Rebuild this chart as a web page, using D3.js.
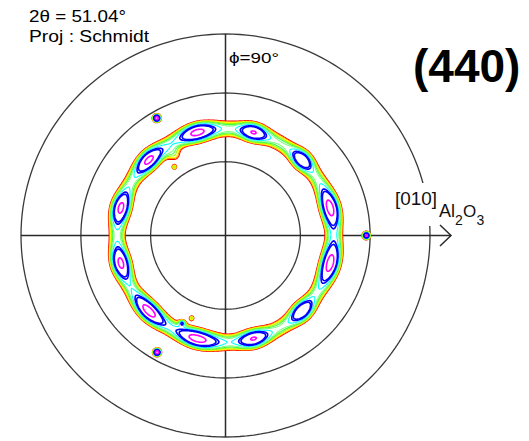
<!DOCTYPE html>
<html><head><meta charset="utf-8">
<script src="https://cdn.jsdelivr.net/npm/d3@7"></script>
<style>html,body{margin:0;padding:0;background:#fff;}svg{display:block;}</style>
</head><body>
<script>
// ---- data ----
const twoTheta = "51.04";
const projection = "Schmidt";
const reflection = "(440)";
const gridChi = [30, 60, 90];              // tilt circles (deg)
const ringChi = 44;                        // radial centre of the texture ring (deg)
const ringSigma = 3.3;                     // radial spread (deg)
const ringBase = 1.6;                      // ring intensity between peaks
const peakPhi   = [15, 45, 75, 105, 135, 165, -165, -135, -105, -75, -45, -15];
const peakAmp   = [1.45, 1.15, 1.25, 1.4, 1.35, 1.35, 1.35, 1.45, 1.45, 1.25, 1.2, 1.45];
const peakSigma = [7, 4.5, 5, 6.5, 6, 6, 6, 7, 7.5, 5.5, 5, 7.5];
const spotPhi = [120, -120, 0];
const spotChi = [56.8, 56.5, 58.3];
const spotAmp = [3.2, 3.2, 2.9];
const blobPhi = [126.5, -112, -116, 122];
const blobChi = [34.6, 36.3, 39.8, 38];
const blobAmp = [1.2, 1.2, 1.15, 0.85];
const blobSize = [0.012, 0.013, 0.012, 0.03];
const levels = [1, 1.1, 1.2, 1.32, 1.45, 1.58, 1.8, 2.05, 2.2, 2.8];
const levelColors = ["#ff0000","#ff9000","#ffff00","#a0ff00","#40ff40","#80ff80","#00ffff","#0000ff","#0000ff","#ff00ff"];

// ---- layout ----
const W = 529, H = 441;
const cx = 225.5, cy = 235.5, rx = 204.5, ry = 201.5;
const x = d3.scaleLinear().domain([-1, 1]).range([cx - rx, cx + rx]);
const y = d3.scaleLinear().domain([-1, 1]).range([cy + ry, cy - ry]);
const rad = Math.PI / 180;
const rho = chi => Math.SQRT2 * Math.sin(chi * rad / 2);   // Schmidt (equal-area)
const proj = (phi, chi) => [rho(chi) * Math.cos(phi * rad), rho(chi) * Math.sin(phi * rad)];

const svg = d3.select("body").append("svg").attr("width", W).attr("height", H);
svg.append("rect").attr("width", W).attr("height", H).attr("fill", "#fff");

// tilt circles
const circLine = d3.line().x(d => x(d[0])).y(d => y(d[1]));
const phis = d3.range(0, 361, 2);
svg.append("g").selectAll("path").data(gridChi).join("path")
  .attr("d", c => circLine(phis.map(p => proj(p, c))) + "Z")
  .attr("fill", "none").attr("stroke", "#3a3a3a").attr("stroke-width", 1.3);

// label mask
svg.append("rect").attr("x", 392).attr("y", 183).attr("width", 92).attr("height", 43).attr("fill", "#fff");

// axes
const axisExt = (451 - cx) / rx;
const ax = svg.append("g").attr("stroke", "#2a2a2a").attr("stroke-width", 1.5).attr("fill", "none");
ax.append("line").attr("x1", x(0)).attr("x2", x(0)).attr("y1", y(1)).attr("y2", y(-1));
ax.append("line").attr("x1", x(-1)).attr("x2", x(axisExt)).attr("y1", y(0)).attr("y2", y(0));
ax.append("path").attr("d", `M${x(axisExt) - 11},${y(0) - 10.5}L${x(axisExt)},${y(0)}L${x(axisExt) - 11},${y(0) + 10.5}`);

// intensity field
const x0 = Math.floor(cx - rx) - 2, y0 = Math.floor(cy - ry) - 2;
const gw = Math.ceil(2 * rx) + 5, gh = Math.ceil(2 * ry) + 5;
const values = new Float64Array(gw * gh);
const wrap = d => ((d + 180) % 360 + 360) % 360 - 180;
const spotXY = spotPhi.map((p, i) => proj(p, spotChi[i]));
const blobXY = blobPhi.map((p, i) => proj(p, blobChi[i]));
for (let j = 0; j < gh; j++) {
  for (let i = 0; i < gw; i++) {
    const u = x.invert(x0 + i + 0.5), v = y.invert(y0 + j + 0.5);
    const r = Math.hypot(u, v);
    if (r > 1) continue;
    const chi = 2 * Math.asin(r / Math.SQRT2) / rad;
    const phi = Math.atan2(v, u) / rad;
    let f = ringBase;
    for (let k = 0; k < peakPhi.length; k++) {
      const d = wrap(phi - peakPhi[k]);
      f += peakAmp[k] * Math.exp(-d * d / (2 * peakSigma[k] * peakSigma[k]));
    }
    const dc = chi - ringChi;
    let val = f * Math.exp(-dc * dc / (2 * ringSigma * ringSigma));
    for (let k = 0; k < spotXY.length; k++) {
      const d2 = (u - spotXY[k][0]) ** 2 + (v - spotXY[k][1]) ** 2;
      val += spotAmp[k] * Math.exp(-d2 / (2 * 0.015 * 0.015));
    }
    for (let k = 0; k < blobXY.length; k++) {
      const d2 = (u - blobXY[k][0]) ** 2 + (v - blobXY[k][1]) ** 2;
      val += blobAmp[k] * Math.exp(-d2 / (2 * blobSize[k] * blobSize[k]));
    }
    values[j * gw + i] = val;
  }
}
const contours = d3.contours().size([gw, gh]).thresholds(levels)(values);
const path = d3.geoPath(d3.geoIdentity().translate([x0, y0]));
svg.append("path").attr("d", path(contours[0])).attr("fill", "#fff").attr("stroke", "none");
svg.append("g").selectAll("path").data(contours).join("path")
  .attr("d", path).attr("fill", "none")
  .attr("stroke", (d, i) => levelColors[i]).attr("stroke-width", (d, i) => i >= 7 ? 1.6 : 1.1);

// texts
const tf = "'Liberation Sans', Arial, sans-serif";
svg.append("text").attr("x", 29).attr("y", 21.5).attr("font-family", tf).attr("font-size", 16)
  .attr("textLength", 97).attr("lengthAdjust", "spacingAndGlyphs").text(`2θ = ${twoTheta}°`);
svg.append("text").attr("x", 29).attr("y", 42).attr("font-family", tf).attr("font-size", 16)
  .attr("textLength", 120).attr("lengthAdjust", "spacingAndGlyphs").text(`Proj : ${projection}`);
svg.append("text").attr("x", 229).attr("y", 62.5).attr("font-family", tf).attr("font-size", 15)
  .attr("textLength", 50).attr("lengthAdjust", "spacingAndGlyphs").text("ϕ=90°");
svg.append("text").attr("x", 413).attr("y", 82).attr("font-family", tf).attr("font-size", 46)
  .attr("font-weight", "bold").text(reflection);
const lab = svg.append("g").attr("font-family", tf).attr("fill", "#111");
lab.append("text").attr("x", 395).attr("y", 205).attr("font-size", 18)
  .attr("textLength", 42).attr("lengthAdjust", "spacingAndGlyphs").text("[010]");
lab.append("text").attr("x", 439).attr("y", 217).attr("font-size", 18).text("Al");
lab.append("text").attr("x", 455).attr("y", 225).attr("font-size", 14).text("2");
lab.append("text").attr("x", 463).attr("y", 217).attr("font-size", 17).text("O");
lab.append("text").attr("x", 476.5).attr("y", 225).attr("font-size", 14).text("3");
</script>
</body></html>
